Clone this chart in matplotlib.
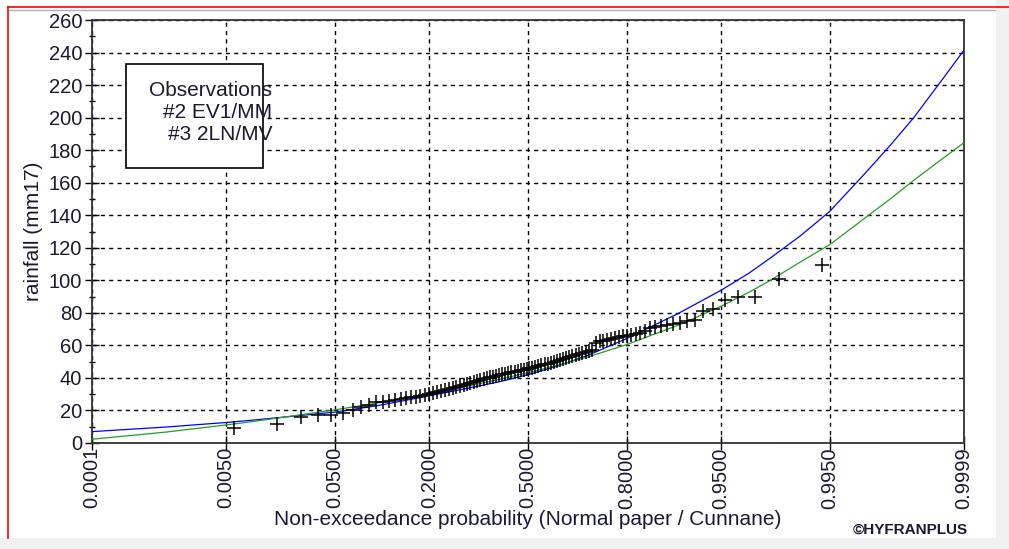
import statistics
import matplotlib
matplotlib.use("Agg")
import matplotlib.pyplot as plt
from matplotlib.patches import Rectangle
from matplotlib.lines import Line2D

plt.rcParams['font.family'] = ['Liberation Sans', 'DejaVu Sans']

# observed rainfall, sorted (plotted at Cunnane positions)
rain_obs = [9.0, 11.5, 16.0, 17.2, 17.5, 18.2, 20.3, 22.0, 23.5, 25.0,
            25.5, 26.0, 26.5, 27.0, 27.5, 28.0, 28.5, 29.0, 29.5, 30.0,
            30.6, 31.2, 31.8, 32.5, 33.2, 33.8, 34.4, 35.0, 35.6, 36.3,
            37.0, 37.5, 38.0, 38.6, 39.2, 39.8, 40.3, 40.8, 41.3, 41.8,
            42.2, 42.6, 43.0, 43.4, 43.8, 44.2, 44.6, 45.0, 45.4, 45.8,
            46.3, 46.8, 47.3, 47.8, 48.3, 48.8, 49.3, 49.8, 50.4, 51.0,
            51.6, 52.2, 52.8, 53.4, 54.0, 54.6, 55.2, 55.8, 56.4, 57.0,
            61.5, 62.5, 63.0, 63.5, 64.0, 64.5, 65.0, 65.5, 66.0, 66.5,
            67.0, 67.5, 69.0, 70.5, 71.5, 72.0, 72.5, 73.0, 74.0, 75.0,
            75.5, 81.0, 82.5, 88.0, 89.5, 90.0, 100.8, 109.4]

# fitted curves
curve_p = [0.0001, 0.001, 0.005, 0.01, 0.05, 0.1, 0.2, 0.3, 0.4, 0.5,
           0.6, 0.7, 0.8, 0.9, 0.95, 0.97, 0.98, 0.99, 0.995, 0.998,
           0.999, 0.9995, 0.9998, 0.9999]
ev1_mm = [7.0, 9.8, 12.6, 14.2, 19.0, 23.0, 29.0, 33.5, 37.5, 42.0,
          47.3, 54.3, 64.2, 79.6, 93.8, 104.2, 113.0, 127.5, 142.5, 166.0,
          183.0, 200.0, 224.0, 241.5]
ln2_mv = [2.3, 6.7, 11.1, 13.4, 20.4, 24.6, 30.3, 34.8, 39.0, 43.2,
          47.8, 53.2, 60.5, 72.4, 84.0, 92.5, 99.4, 111.4, 122.0, 138.5,
          150.0, 161.5, 175.0, 184.6]

tick_p = [0.0001, 0.005, 0.05, 0.2, 0.5, 0.8, 0.95, 0.995, 0.9999]

nd = statistics.NormalDist()


def z(p):
    return nd.inv_cdf(p)


n = len(rain_obs)
obs_z = [z((i + 1 - 0.4) / (n + 0.2)) for i in range(n)]

W, H = 1009, 549
TXT = '#1a1a33'
fig = plt.figure(figsize=(W / 100, H / 100), dpi=100, facecolor='white')
ax = fig.add_axes([92 / W, 1 - 443 / H, (964 - 92) / W, (443 - 20) / H])

# window frame bits
fig.patches.append(Rectangle((996 / W, 0), 13 / W, 1, transform=fig.transFigure,
                             facecolor='#f0f0f0', edgecolor='none', zorder=-5))
fig.patches.append(Rectangle((0, 0), 1, 11 / H, transform=fig.transFigure,
                             facecolor='#f0f0f0', edgecolor='none', zorder=-5))
fig.lines.append(Line2D([8 / W, 8 / W], [11 / H, 1 - 7 / H], transform=fig.transFigure,
                        color='red', lw=1.2))
fig.lines.append(Line2D([8 / W, 1], [1 - 7 / H, 1 - 7 / H], transform=fig.transFigure,
                        color='red', lw=1.2))
fig.lines.append(Line2D([9 / W, 995 / W], [1 - 10 / H, 1 - 10 / H], transform=fig.transFigure,
                        color='#b0b0b0', lw=1))

cz = [z(p) for p in curve_p]
ax.plot(cz, ev1_mm, color='#0000ff', lw=0.9, zorder=3)
ax.plot(cz, ln2_mv, color='#22a022', lw=0.9, zorder=3)
ax.plot(obs_z, rain_obs, linestyle='none', marker='+', color='black',
        ms=10, mew=1.1, zorder=4)

ax.set_xlim(z(0.0001), z(0.9999))
ax.set_ylim(0, 260)
ax.set_xticks([z(p) for p in tick_p])
ax.set_xticklabels(['%.4f' % p for p in tick_p], rotation=90, fontsize=14.5,
                   color=TXT)
ax.set_yticks(range(0, 261, 20))
ax.set_yticks(range(10, 260, 20), minor=True)
ax.tick_params(axis='y', labelsize=14.5, labelcolor=TXT)
ax.tick_params(which='major', direction='inout', length=10, width=1, pad=2)
ax.tick_params(axis='x', which='major', pad=-2)
ax.tick_params(which='minor', direction='inout', length=4, width=1)

ax.grid(True, which='major', color='black', linestyle=(0, (3, 3)), lw=1)
for s in ax.spines.values():
    s.set_color('#333333')
    s.set_linewidth(1.3)

ax.set_ylabel('rainfall (mm17)', fontsize=15, color=TXT, labelpad=4)
ax.set_xlabel('Non-exceedance probability (Normal paper / Cunnane)', fontsize=15,
              color=TXT, labelpad=1)

# legend box (text only, as drawn by the program)
box_x0, box_x1 = (126 - 92) / 872, (263 - 92) / 872
box_y0, box_y1 = (443 - 168) / 423, (443 - 64) / 423
ax.add_patch(Rectangle((box_x0, box_y0), box_x1 - box_x0, box_y1 - box_y0,
                       transform=ax.transAxes, facecolor='white',
                       edgecolor='black', lw=1.2, zorder=5))
legend_lines = ['Observations', '#2 EV1/MM', '#3 2LN/MV']
for k, t in enumerate(legend_lines):
    ax.text((272 - 92) / 872, (443 - 91 - 22 * k) / 423, t, transform=ax.transAxes,
            ha='right', va='center', fontsize=15, color=TXT, zorder=6)

fig.text(968 / W, 1 - 530 / H, '\u00a9HYFRANPLUS', ha='right', va='center',
         fontsize=11, fontweight='bold', color=TXT)

fig.savefig('out.png', dpi=100, facecolor='white')
